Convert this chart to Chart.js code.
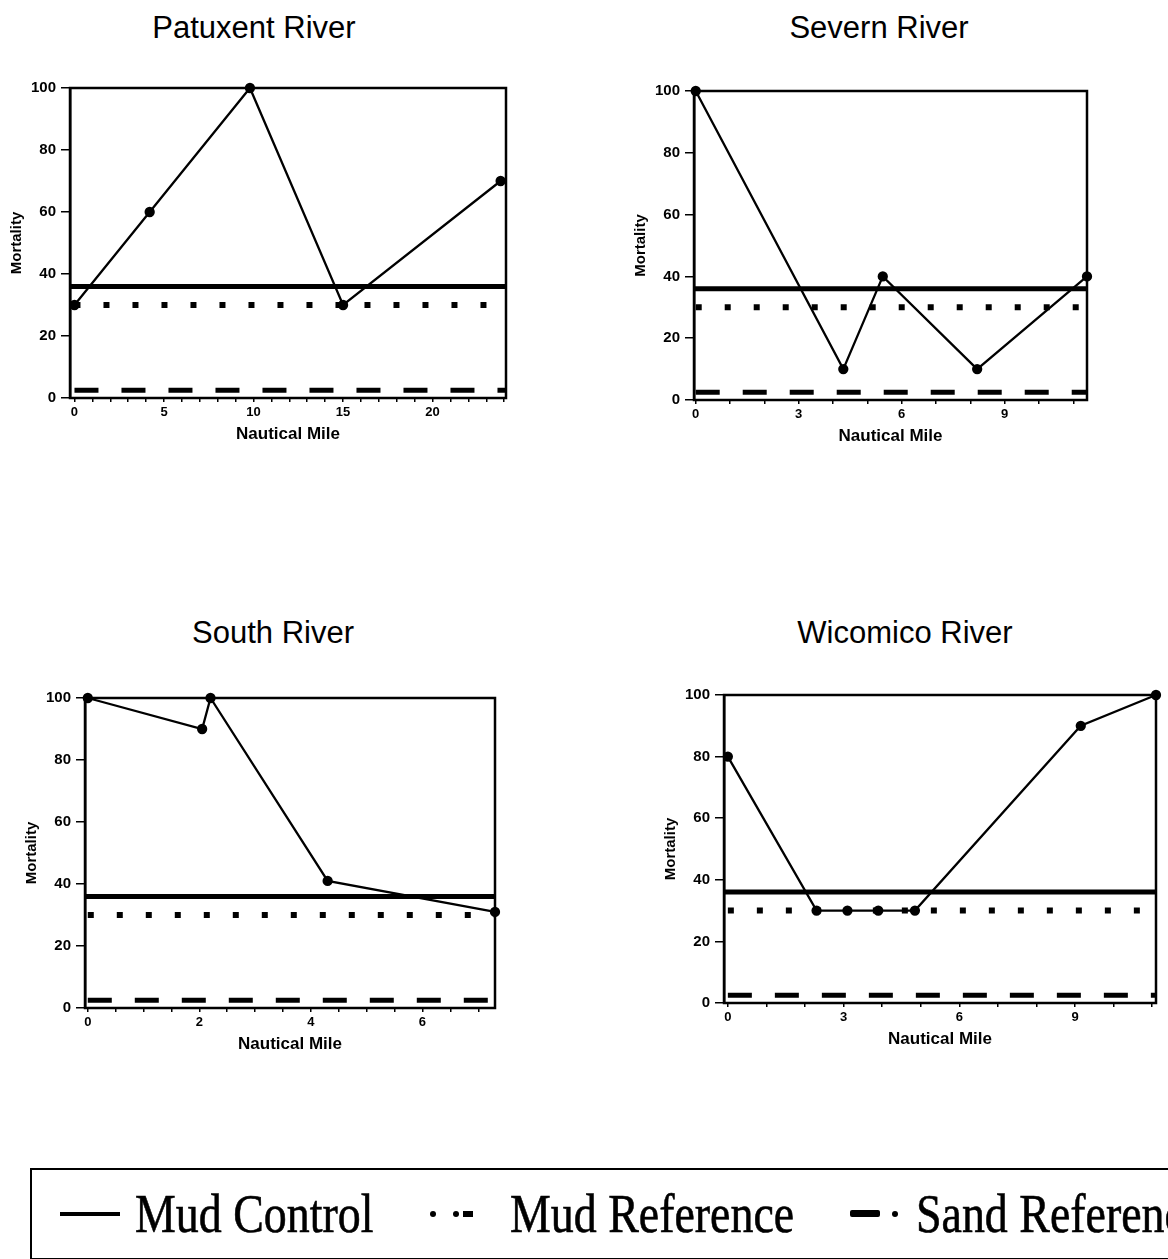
<!DOCTYPE html>
<html>
<head>
<meta charset="utf-8">
<script src="https://cdn.jsdelivr.net/npm/chart.js@4/dist/chart.umd.min.js"></script>
<style>
  html, body { margin: 0; padding: 0; background: #fff; }
  body { width: 1168px; height: 1259px; overflow: hidden; position: relative; }
  canvas.panel { position: absolute; }
  .river-title {
    position: absolute; transform: translate(-50%, -50%);
    font-family: "Liberation Sans", Arial, sans-serif; font-size: 31px;
    color: #000; white-space: nowrap;
  }
  #legend {
    position: absolute; left: 30px; top: 1168px; width: 1200px; height: 92px;
    border: 2px solid #000; box-sizing: border-box;
  }
  .lg-text {
    position: absolute; top: 17px; font-family: "Liberation Serif", "Times New Roman", serif;
    font-size: 54px; line-height: 54px; color: #000; white-space: nowrap;
    transform-origin: 0 0; transform: scaleX(0.85);
    -webkit-text-stroke: 0.6px #000;
  }
  .lg-mark { position: absolute; background: #000; }
</style>
</head>
<body>

<div class="river-title" style="left:254px; top:28px;">Patuxent River</div>
<div class="river-title" style="left:879px; top:28px;">Severn River</div>
<div class="river-title" style="left:273px; top:633px;">South River</div>
<div class="river-title" style="left:905px; top:633px;">Wicomico River</div>

<canvas class="panel" id="patuxent"></canvas>
<canvas class="panel" id="severn"></canvas>
<canvas class="panel" id="south"></canvas>
<canvas class="panel" id="wicomico"></canvas>

<div id="legend">
  <!-- Mud Control: solid bar -->
  <div class="lg-mark" style="left:28px; top:42px; width:60px; height:4px;"></div>
  <div class="lg-text" style="left:103px;">Mud Control</div>
  <!-- Mud Reference: dots -->
  <div class="lg-mark" style="left:398px; top:41px; width:6px; height:6px; border-radius:3px;"></div>
  <div class="lg-mark" style="left:421px; top:41px; width:6px; height:6px; border-radius:3px;"></div>
  <div class="lg-mark" style="left:431px; top:41px; width:10px; height:6px;"></div>
  <div class="lg-text" style="left:478px;">Mud Reference</div>
  <!-- Sand Reference: dash -->
  <div class="lg-mark" style="left:818px; top:40px; width:30px; height:7px; border-radius:2px;"></div>
  <div class="lg-mark" style="left:860px; top:41px; width:6px; height:6px; border-radius:3px;"></div>
  <div class="lg-text" style="left:884px;">Sand Reference</div>
</div>

<script>
// Mortality (%) along each river, by nautical mile
const patuxentMiles     = [0, 4.2, 9.8, 15, 23.8];
const patuxentMortality = [30, 60, 100, 30, 70];

const severnMiles     = [0, 4.3, 5.45, 8.2, 11.4];
const severnMortality = [100, 10, 40, 10, 40];

const southMiles     = [0, 2.05, 2.2, 4.3, 7.3];
const southMortality = [100, 90, 100, 41, 31];

const wicomicoMiles     = [0, 2.3, 3.1, 3.9, 4.85, 9.15, 11.1];
const wicomicoMortality = [80, 30, 30, 30, 30, 90, 100];

// Reference sediment mortality levels
const mudControl    = 36;
const mudReference  = 30;
const sandReference = 2.5;

// Axis ticks
const mortalityTicks = [0, 20, 40, 60, 80, 100];
const mileRange      = { patuxent: [-0.25, 24.1], severn: [-0.05, 11.4], south: [-0.05, 7.3], wicomico: [-0.1, 11.1] };
const mileMinorStep  = { patuxent: 1, severn: 1, south: 0.5, wicomico: 1 };
const mileLabelStep  = { patuxent: 5, severn: 3, south: 2, wicomico: 3 };

// Plot-area placement on the page (left, top, right, bottom)
const plotBoxes = {
  patuxent: [70, 88, 506, 398],
  severn:   [694, 91, 1087, 400],
  south:    [85, 698, 495, 1008],
  wicomico: [724, 695, 1156, 1003]
};

const Y_AXIS_W = 70, X_AXIS_H = 60, PAD_T = 20, PAD_R = 20;
const SANS = 'Liberation Sans, Arial, sans-serif';

const framePlugin = {
  id: 'frame',
  afterDatasetsDraw(chart) {
    const a = chart.chartArea, ctx = chart.ctx;
    ctx.save();
    ctx.strokeStyle = '#000';
    ctx.lineWidth = 2.5;
    ctx.strokeRect(a.left, a.top, a.right - a.left, a.bottom - a.top);
    ctx.restore();
  }
};

function makePanel(id, miles, mortality) {
  const [L, T, R, B] = plotBoxes[id];
  const cv = document.getElementById(id);
  const w = R - L + Y_AXIS_W + PAD_R, h = B - T + PAD_T + X_AXIS_H;
  cv.width = w; cv.height = h;
  cv.style.left = (L - Y_AXIS_W) + 'px';
  cv.style.top = (T - PAD_T) + 'px';
  cv.style.width = w + 'px'; cv.style.height = h + 'px';

  const [xMin, xMax] = mileRange[id];
  const labelStep = mileLabelStep[id];
  const riverPts = miles.map((m, i) => ({ x: m, y: mortality[i] }));

  new Chart(cv, {
    type: 'scatter',
    data: {
      datasets: [
        {
          label: 'Sand Reference',
          data: [{ x: 0, y: sandReference }, { x: xMax, y: sandReference }],
          showLine: true, borderColor: '#000', borderWidth: 5,
          borderDash: [24, 23], borderCapStyle: 'butt', pointRadius: 0
        },
        {
          label: 'Mud Reference',
          data: [{ x: 0, y: mudReference }, { x: xMax, y: mudReference }],
          showLine: true, borderColor: '#000', borderWidth: 6,
          borderDash: [6, 23], borderCapStyle: 'butt', pointRadius: 0
        },
        {
          label: 'Mud Control',
          data: [{ x: xMin, y: mudControl }, { x: xMax, y: mudControl }],
          showLine: true, borderColor: '#000', borderWidth: 5, pointRadius: 0
        },
        {
          label: 'Mortality',
          data: riverPts,
          showLine: true, borderColor: '#000', borderWidth: 2.3,
          pointRadius: 4, pointBackgroundColor: '#000', pointBorderColor: '#000',
          clip: false
        }
      ]
    },
    options: {
      responsive: false, animation: false, devicePixelRatio: 1,
      layout: { padding: { top: PAD_T, right: PAD_R, left: 0, bottom: 0 } },
      plugins: { legend: { display: false }, tooltip: { enabled: false } },
      scales: {
        x: {
          type: 'linear', min: xMin, max: xMax,
          afterFit(s) { s.height = X_AXIS_H; },
          grid: { drawOnChartArea: false, drawTicks: true, tickLength: 4, color: '#000', lineWidth: 1.5 },
          border: { display: true, color: '#000', width: 2 },
          ticks: {
            stepSize: mileMinorStep[id], includeBounds: false, autoSkip: false, maxRotation: 0,
            padding: 3, color: '#000',
            font: { family: SANS, size: 13, weight: 'bold' },
            callback: v => (Math.abs(v / labelStep - Math.round(v / labelStep)) < 1e-6 ? String(Math.round(v)) : '')
          },
          title: {
            display: true, text: 'Nautical Mile', color: '#000',
            font: { family: SANS, size: 17, weight: 'bold' },
            padding: { top: 0, bottom: 13 }
          }
        },
        y: {
          type: 'linear', min: 0, max: 100,
          afterFit(s) { s.width = Y_AXIS_W; },
          afterBuildTicks(s) { s.ticks = mortalityTicks.map(v => ({ value: v })); },
          grid: { drawOnChartArea: false, drawTicks: true, tickLength: 9, color: '#000', lineWidth: 1.5 },
          border: { display: true, color: '#000', width: 2.5 },
          ticks: {
            padding: 5, color: '#000',
            font: { family: SANS, size: 15, weight: 'bold' }
          },
          title: {
            display: true, text: 'Mortality', color: '#000',
            font: { family: SANS, size: 15, weight: 'bold' },
            padding: { top: 8, bottom: 0 }
          }
        }
      }
    },
    plugins: [framePlugin]
  });
}

makePanel('patuxent', patuxentMiles, patuxentMortality);
makePanel('severn',   severnMiles,   severnMortality);
makePanel('south',    southMiles,    southMortality);
makePanel('wicomico', wicomicoMiles, wicomicoMortality);
</script>
</body>
</html>
